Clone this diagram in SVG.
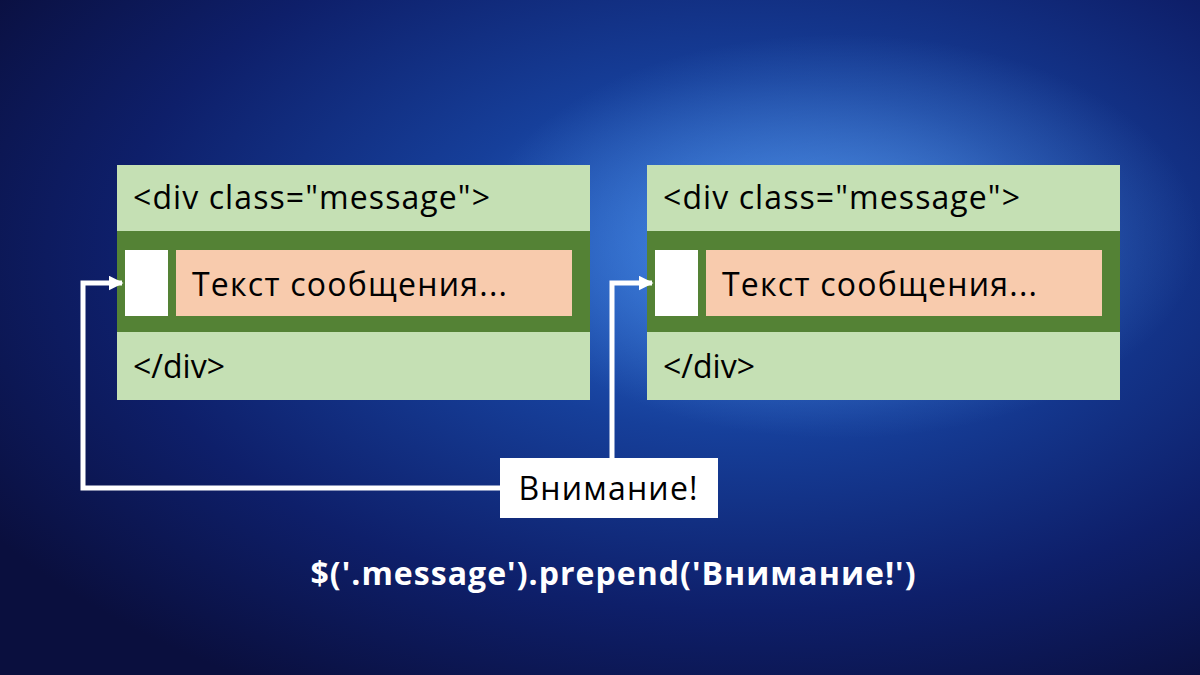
<svg xmlns="http://www.w3.org/2000/svg" width="1200" height="675" viewBox="0 0 1200 675">
<defs>
<radialGradient id="bg" cx="0.62" cy="0.38" r="0.75">
<stop offset="0" stop-color="#2d6fd6"/>
<stop offset="0.35" stop-color="#163f9a"/>
<stop offset="0.7" stop-color="#0e1f6a"/>
<stop offset="1" stop-color="#0a0f3e"/>
</radialGradient>
<radialGradient id="glow" cx="0.7" cy="0.35" r="0.3">
<stop offset="0" stop-color="#6fb4ff" stop-opacity="0.55"/>
<stop offset="1" stop-color="#6fb4ff" stop-opacity="0"/>
</radialGradient>
<marker id="ah" viewBox="0 0 10 10" refX="9" refY="5" markerWidth="3" markerHeight="3" orient="auto">
<path d="M0,0 L10,5 L0,10 z" fill="#fff"/>
</marker>
<style>
.lg{fill:#C5E0B4}.dg{fill:#548235}.pe{fill:#F8CBAD}.wh{fill:#fff}
.t{font-family:"Open Sans","Liberation Sans",sans-serif;font-size:32px;fill:#000}
.c{fill:none;stroke:#fff;stroke-width:5}
</style>
</defs>
<rect width="1200" height="675" fill="url(#bg)"/>
<rect width="1200" height="675" fill="url(#glow)"/>
<g id="box1">
<rect class="lg" x="117" y="165" width="473" height="235"/>
<rect class="dg" x="117" y="231" width="473" height="101"/>
<rect class="wh" x="125" y="250" width="43" height="66"/>
<rect class="pe" x="176" y="250" width="396" height="66"/>
<text class="t" x="133" y="209" textLength="357">&lt;div class="message"&gt;</text>
<text class="t" x="192" y="296" textLength="315">Текст сообщения...</text>
<text class="t" x="133" y="378">&lt;/div&gt;</text>
</g>
<g id="box2">
<rect class="lg" x="647" y="165" width="473" height="235"/>
<rect class="dg" x="647" y="231" width="473" height="101"/>
<rect class="wh" x="655" y="250" width="43" height="66"/>
<rect class="pe" x="706" y="250" width="396" height="66"/>
<text class="t" x="663" y="209" textLength="357">&lt;div class="message"&gt;</text>
<text class="t" x="722" y="296" textLength="315">Текст сообщения...</text>
<text class="t" x="663" y="378">&lt;/div&gt;</text>
</g>
<g id="connectors">
<polyline class="c" points="500,488 83,488 83,283 122,283" marker-end="url(#ah)"/>
<polyline class="c" points="612,458 612,283 652,283" marker-end="url(#ah)"/>
</g>
<g id="label">
<rect class="wh" x="500" y="458" width="218" height="60"/>
<text class="t" x="608" y="500" text-anchor="middle" textLength="179">Внимание!</text>
</g>
<text x="613" y="585" text-anchor="middle" font-family="Open Sans, Liberation Sans, sans-serif" font-weight="bold" font-size="32" fill="#fff" textLength="605">$('.message').prepend('Внимание!')</text>
</svg>
